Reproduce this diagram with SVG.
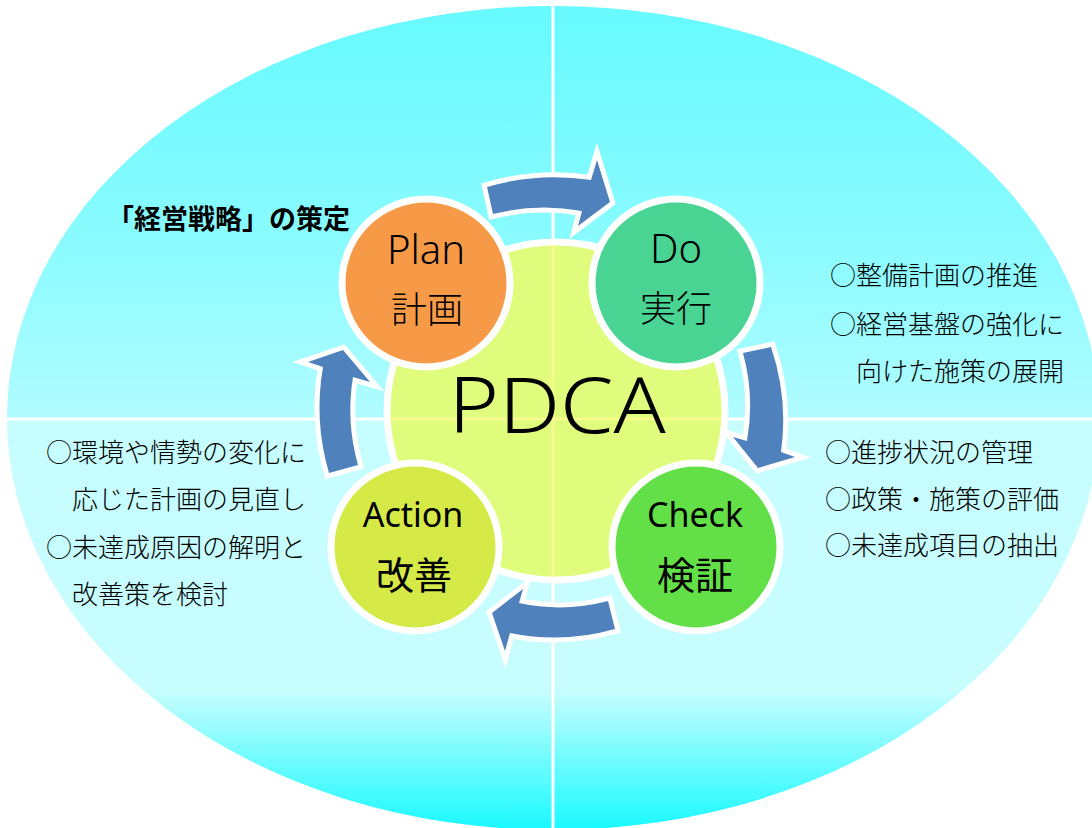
<svg xmlns="http://www.w3.org/2000/svg" width="1092" height="828" viewBox="0 0 1092 828">
  <defs>
    <linearGradient id="skyFill" gradientUnits="userSpaceOnUse" x1="0" y1="6" x2="0" y2="830">
      <stop offset="0" stop-color="#66faff"/>
      <stop offset="0.3" stop-color="#8cfbff"/>
      <stop offset="0.498" stop-color="#b0fcff"/>
      <stop offset="0.502" stop-color="#c6fdfe"/>
      <stop offset="0.83" stop-color="#c8fdfe"/>
      <stop offset="1" stop-color="#18faff"/>
    </linearGradient>
    <clipPath id="ovalClip">
      <ellipse cx="553" cy="418" rx="546" ry="412"/>
    </clipPath>
    <clipPath id="hubClip">
      <circle cx="556" cy="411" r="166"/>
    </clipPath>
    <style>
      .axis { stroke: #ffffff; stroke-width: 3; }
      .axis-in { stroke: #f6fc8e; stroke-width: 3; }
      .node { stroke: #ffffff; stroke-width: 7; }
      .arrow { fill: #4f81bd; stroke: #ffffff; stroke-width: 10; stroke-linejoin: miter; stroke-miterlimit: 10; paint-order: stroke; }
      .lat { font-family: "Noto Sans", "Liberation Sans", sans-serif; fill: #000; text-anchor: middle; }
      .jp { font-family: "Noto Sans CJK JP", "Noto Sans", sans-serif; fill: #000; }
      .mid { text-anchor: middle; }
      .note { font-size: 26px; font-weight: 300; }
      .thin { font-weight: 300; }
    </style>
  </defs>

  <!-- oval backdrop with quadrant axes -->
  <g id="backdrop">
    <ellipse cx="553" cy="418" rx="546" ry="412" fill="url(#skyFill)"/>
    <g clip-path="url(#ovalClip)">
      <line class="axis" x1="0" y1="419" x2="1092" y2="419"/>
      <line class="axis" x1="553" y1="0" x2="553" y2="828"/>
    </g>
  </g>

  <!-- central hub -->
  <g id="hub">
    <circle cx="556" cy="411" r="169" fill="#e0fc7c" stroke="#ffffff" stroke-width="7"/>
    <g clip-path="url(#hubClip)">
      <line class="axis-in" x1="380" y1="419" x2="740" y2="419"/>
      <line class="axis-in" x1="553" y1="230" x2="553" y2="590"/>
    </g>
    <text class="lat thin" transform="translate(557,433) scale(1.1,1)" x="0" y="0" font-size="78">PDCA</text>
  </g>

  <!-- cycle arrows -->
  <g id="connectors">
    <path class="arrow" d="M 487,187 A 238 238 0 0 1 591,180 L 597,160 L 610,202 L 578,226 L 582,211 A 207 207 0 0 0 493,214 Z"/>
    <path class="arrow" d="M 771,347 A 228 228 0 0 1 781,452 L 795,457 L 758,468 L 733,437 L 747,441 A 199 199 0 0 0 743,353 Z"/>
    <path class="arrow" d="M 615,629 A 221 221 0 0 1 510,633 L 505,651 L 492,613 L 523,589 L 519,603 A 191 191 0 0 0 608,601 Z"/>
    <path class="arrow" d="M 329,473 A 234 234 0 0 1 323,367 L 308,362 L 343,350 L 370,382 L 353,377 A 203 203 0 0 0 358,465 Z"/>
  </g>

  <g id="node-plan">
    <circle class="node" cx="426" cy="283" r="84" fill="#f79a48"/>
    <text class="lat thin" x="426" y="264" font-size="40">Plan</text>
    <text class="jp mid thin" x="427" y="323" font-size="36">計画</text>
  </g>

  <g id="node-do">
    <circle class="node" cx="676" cy="283" r="84" fill="#49d494"/>
    <text class="lat thin" x="676" y="263" font-size="40">Do</text>
    <text class="jp mid thin" x="676" y="322" font-size="36">実行</text>
  </g>

  <g id="node-check">
    <circle class="node" cx="696" cy="547" r="84" fill="#63e048"/>
    <text class="lat" x="695" y="527" font-size="34">Check</text>
    <text class="jp mid" x="695" y="589" font-size="38">検証</text>
  </g>

  <g id="node-action">
    <circle class="node" cx="415" cy="547" r="84" fill="#d5ea47"/>
    <text class="lat" x="413" y="527" font-size="34">Action</text>
    <text class="jp mid" x="414" y="589" font-size="38">改善</text>
  </g>

  <!-- annotations -->
  <g id="note-plan">
    <text class="jp" x="350" y="229" font-size="27" font-weight="700" text-anchor="end">「経営戦略」の策定</text>
  </g>

  <g id="note-do">
    <text class="jp note" x="830" y="285">○整備計画の推進</text>
    <text class="jp note" x="830" y="334">○経営基盤の強化に</text>
    <text class="jp note" x="856" y="381">向けた施策の展開</text>
  </g>

  <g id="note-check">
    <text class="jp note" x="825" y="462">○進捗状況の管理</text>
    <text class="jp note" x="825" y="509">○政策・施策の評価</text>
    <text class="jp note" x="825" y="555">○未達成項目の抽出</text>
  </g>

  <g id="note-action">
    <text class="jp note" x="46" y="462">○環境や情勢の変化に</text>
    <text class="jp note" x="72" y="509">応じた計画の見直し</text>
    <text class="jp note" x="46" y="557">○未達成原因の解明と</text>
    <text class="jp note" x="72" y="604">改善策を検討</text>
  </g>
</svg>
